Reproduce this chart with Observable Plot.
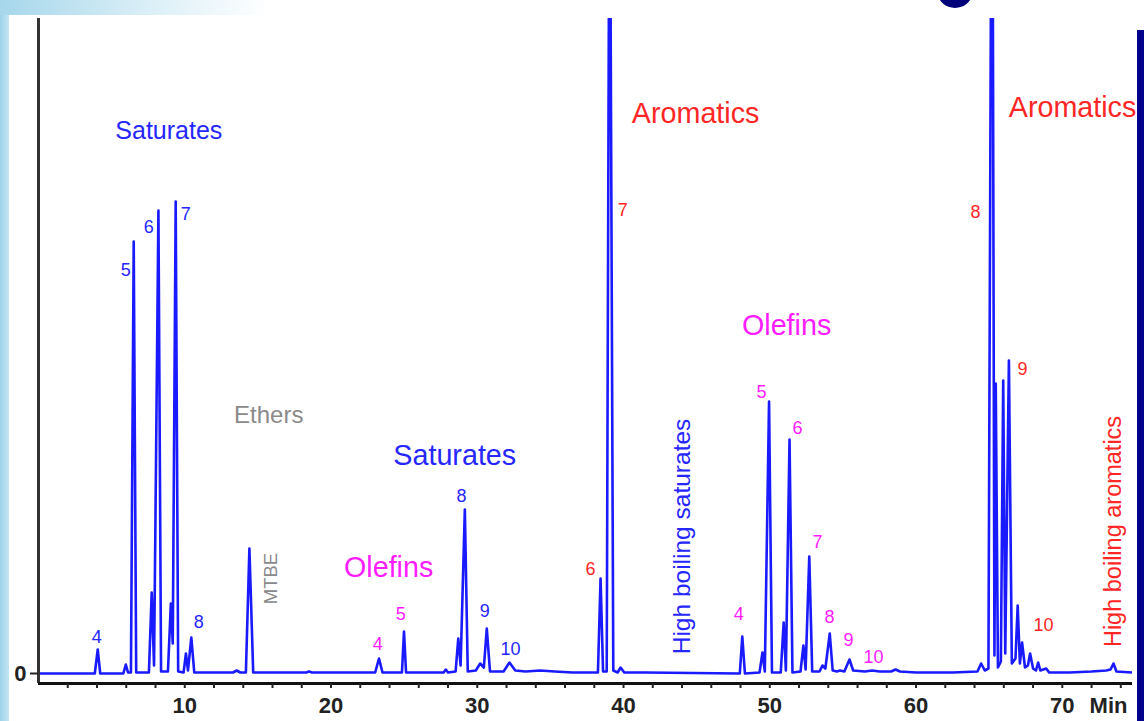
<!DOCTYPE html>
<html>
<head>
<meta charset="utf-8">
<script src="https://cdn.jsdelivr.net/npm/d3@7"></script>
<script src="https://cdn.jsdelivr.net/npm/@observablehq/plot@0.6"></script>
<style>
  html, body { margin: 0; padding: 0; background: #fff; }
  #wrap { position: relative; width: 1144px; height: 721px; overflow: hidden; background: #fff;
          font-family: "Liberation Sans", Arial, Helvetica, sans-serif; }
  #wrap svg { position: absolute; left: 0; top: 0; }
  .deco { position: absolute; z-index: 2; }
</style>
</head>
<body>
<div id="wrap"></div>
<script>
// ---------------- DATA ----------------
// Chromatogram trace vertices: retention time (min) and detector signal (arbitrary units)
const traceTime = [
  0.0, 3.85, 4.05, 4.22, 5.8, 5.97, 6.12, 6.32, 6.51, 6.68,
  7.55, 7.74, 7.9, 8.2, 8.38, 8.85, 9.05, 9.18, 9.38, 9.55,
  9.92, 10.08, 10.22, 10.45, 10.65, 13.3, 13.55, 13.8, 14.18, 14.42,
  14.68, 18.3, 18.5, 18.7, 23.02, 23.28, 23.52, 24.85, 24.99, 25.13,
  27.7, 27.85, 28.0, 28.52, 28.7, 28.86, 29.15, 29.35, 29.9, 30.2,
  30.45, 30.65, 30.87, 31.8, 32.2, 32.6, 33.3, 34.3, 35.3, 36.5,
  38.25, 38.43, 38.6, 38.85, 39.05, 39.3, 39.6, 39.8, 40.05, 41.5,
  47.95, 48.12, 48.3, 49.3, 49.5, 49.66, 49.95, 50.15, 50.75, 50.95,
  51.1, 51.35, 51.55, 52.1, 52.3, 52.45, 52.7, 52.9, 53.4, 53.6,
  53.8, 54.1, 54.3, 54.6, 54.8, 55.1, 55.45, 55.7, 56.5, 57.0,
  57.5, 58.3, 58.6, 58.9, 60.0, 62.5, 64.2, 64.45, 64.7, 64.95,
  65.2, 65.36, 65.45, 65.6, 65.8, 65.96, 66.1, 66.35, 66.55, 66.8,
  66.95, 67.1, 67.25, 67.45, 67.65, 67.8, 68.0, 68.2, 68.35, 68.5,
  68.9, 69.1, 70.5, 72.0, 73.0, 73.3, 73.5, 73.7, 74.8
];
const traceSignal = [
  0, 0, 24, 0, 0, 9, 1, 1, 432, 1,
  1, 81, 8, 463, 2, 2, 70, 30, 472, 2,
  1, 20, 3, 36, 1, 1, 3, 1, 1, 125,
  1, 1, 2, 1, 1, 15, 1, 1, 42, 1,
  1, 4, 1, 2, 35, 8, 164, 2, 3, 10,
  6, 45, 2, 2, 11, 3, 2, 3, 2, 1,
  1, 95, 2, 2, 900, 3, 1, 6, 1, 1,
  0, 37, 0, 1, 21, 2, 272, 1, 1, 51,
  3, 234, 1, 2, 28, 4, 117, 2, 2, 8,
  5, 40, 3, 2, 3, 2, 14, 3, 2, 3,
  2, 2, 4, 2, 1, 1, 2, 10, 3, 5,
  1000, 18, 290, 6, 12, 293, 20, 313, 10, 15,
  68, 10, 31, 6, 8, 20, 5, 3, 11, 3,
  5, 1, 1, 2, 3, 4, 10, 2, 1
];

// Compound-class groups
const groupKeys = ["sat", "ole", "aro", "eth"];

// Annotations: text, retention time, signal level, group, orientation
const labelText = [
  "Saturates", "5", "6", "7", "4", "8",
  "Ethers", "MTBE",
  "Saturates", "8", "9", "10",
  "Olefins", "4", "5",
  "Aromatics", "6", "7",
  "High boiling saturates",
  "4", "Olefins", "5", "6", "7", "8", "9", "10",
  "Aromatics", "8", "9", "10",
  "High boiling aromatics"
];
const labelTime = [
  8.91, 5.97, 7.54, 10.07, 3.99, 10.96,
  15.74, 15.88,
  28.46, 28.93, 30.51, 32.28,
  23.94, 23.19, 24.77,
  44.93, 37.75, 39.94,
  44.04,
  47.87, 51.15, 49.44, 51.9, 53.27, 54.09, 55.39, 57.09,
  70.7, 64.07, 67.28, 68.72,
  73.5
];
const labelLevel = [
  543, 403, 446, 459, 36, 51,
  258, 95,
  218, 177, 62, 24,
  106, 29, 59,
  560, 104, 463,
  137,
  59, 348, 281, 245, 131, 56, 33, 16,
  566, 461, 304, 48,
  142
];
const labelGroup = [
  "sat", "sat", "sat", "sat", "sat", "sat",
  "eth", "eth",
  "sat", "sat", "sat", "sat",
  "ole", "ole", "ole",
  "aro", "aro", "aro",
  "sat",
  "ole", "ole", "ole", "ole", "ole", "ole", "ole", "ole",
  "aro", "aro", "aro", "aro",
  "aro"
];
const labelVertical = [
  false, false, false, false, false, false,
  false, true,
  false, false, false, false,
  false, false, false,
  false, false, false,
  true,
  false, false, false, false, false, false, false, false,
  false, false, false, false,
  true
];

// Axis ticks
const xTickValues = d3.range(2, 75, 2);
const xTickLabels = [10, 20, 30, 40, 50, 60, 70];
const yTickValues = [0];
const xUnit = "Min";

// ---------------- STYLE ----------------
const groupColor = { sat: "#2626ff", ole: "#ff1cff", aro: "#ff2626", eth: "#8a8a8a" };
function labelSize(d, i) {
  if (/^\d+$/.test(d.text)) return 18;
  if (d.text === "MTBE") return 18.5;
  if (d.text === "Ethers") return 24;
  if (d.text.startsWith("High boiling s")) return 24.5;
  if (d.text.startsWith("High boiling a")) return 23.5;
  if (i === 0) return 25;
  return 28.7;
}

// ---------------- BUILD ----------------
const trace = traceTime.map((t, i) => ({ t, s: traceSignal[i] }));
const labels = labelText.map((text, i) => ({
  text, t: labelTime[i], v: labelLevel[i], group: labelGroup[i],
  rot: labelVertical[i] ? -90 : 0
})).map((d, i) => ({ ...d, size: labelSize(d, i) }));

const textMarks = groupKeys.map(g => Plot.text(labels.filter(d => d.group === g), {
  x: "t", y: "v", text: "text", fill: groupColor[g],
  fontSize: "size", rotate: "rot", fontWeight: "normal",
  textAnchor: "middle", lineAnchor: "middle"
}));

const chart = Plot.plot({
  width: 1144,
  height: 721,
  marginLeft: 38,
  marginRight: 12,
  marginTop: 18,
  marginBottom: 38,
  style: { fontFamily: "'Liberation Sans', Arial, Helvetica, sans-serif", background: "transparent", color: "#222" },
  x: { domain: [0, 74.8] },
  y: { domain: [-10, 655] },
  marks: [
    Plot.line(trace, { x: "t", y: "s", stroke: "#1a1aff", strokeWidth: 2.6, clip: true, strokeLinejoin: "round" }),
    ...textMarks,
    Plot.ruleX([0], { stroke: "#333", strokeWidth: 3 }),
    Plot.ruleY([-10], { stroke: "#111", strokeWidth: 3 }),
    Plot.axisX({
      ticks: xTickValues,
      tickFormat: d => xTickLabels.includes(d) ? String(d) : "",
      tickSize: 5, tickPadding: 9, strokeWidth: 2, stroke: "#222",
      fontSize: 22, fontWeight: "bold", fill: "#222", label: null
    }),
    Plot.axisY({
      ticks: yTickValues, tickSize: 8, tickPadding: 4, strokeWidth: 2, stroke: "#222",
      fontSize: 22, fontWeight: "bold", fill: "#222", label: null
    }),
    Plot.text([xUnit], {
      frameAnchor: "bottom-right", text: d => d, dx: -5, dy: 14,
      textAnchor: "end", lineAnchor: "top", fontSize: 22, fontWeight: "bold", fill: "#222"
    })
  ]
});

const wrap = document.getElementById("wrap");
wrap.appendChild(chart);

// Screenshot frame decorations
const deco = [
  { left: 0, top: 0, width: 9, height: 721, background: "linear-gradient(to right,#9dd2e8,#c4e6f2)" },
  { left: 0, top: 0, width: 270, height: 15, background: "linear-gradient(to right,#a6d7eb,#dff1f8 60%,rgba(255,255,255,0))" },
  { left: 1137, top: 30, width: 7, height: 691, background: "#00008c" },
  { left: 938, top: -22, width: 34, height: 30, background: "#00007a", borderRadius: "50%" }
];
for (const d of deco) {
  const el = document.createElement("div");
  el.className = "deco";
  el.style.left = d.left + "px"; el.style.top = d.top + "px";
  el.style.width = d.width + "px"; el.style.height = d.height + "px";
  el.style.background = d.background;
  if (d.borderRadius) el.style.borderRadius = d.borderRadius;
  wrap.appendChild(el);
}
</script>
</body>
</html>
